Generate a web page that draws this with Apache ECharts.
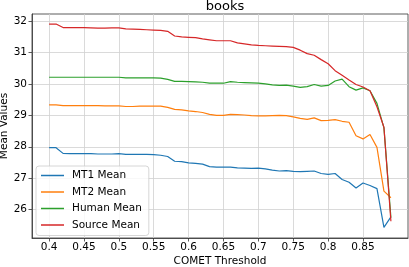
<!DOCTYPE html>
<html>
<head>
<meta charset="utf-8">
<script src="https://cdn.jsdelivr.net/npm/echarts@6/dist/echarts.min.js"></script>
<style>
html,body{margin:0;padding:0;background:#fff;}
#chart{width:409px;height:267px;}
</style>
</head>
<body>
<div id="chart"></div>
<script>
const thresholds = [0.40,0.41,0.42,0.43,0.44,0.45,0.46,0.47,0.48,0.49,
  0.50,0.51,0.52,0.53,0.54,0.55,0.56,0.57,0.58,0.59,
  0.60,0.61,0.62,0.63,0.64,0.65,0.66,0.67,0.68,0.69,
  0.70,0.71,0.72,0.73,0.74,0.75,0.76,0.77,0.78,0.79,
  0.80,0.81,0.82,0.83,0.84,0.85,0.86,0.87,0.88,0.89];
const mt1Mean = [27.97,27.97,27.79,27.78,27.78,27.78,27.78,27.77,27.77,27.77,
  27.78,27.76,27.76,27.76,27.76,27.75,27.73,27.69,27.54,27.53,
  27.49,27.47,27.45,27.37,27.35,27.35,27.35,27.33,27.32,27.31,
  27.32,27.30,27.26,27.23,27.24,27.22,27.21,27.22,27.23,27.15,
  27.12,27.15,26.96,26.87,26.69,26.85,26.77,26.67,25.44,25.77];
const mt2Mean = [29.33,29.33,29.31,29.31,29.31,29.31,29.31,29.31,29.30,29.30,
  29.30,29.28,29.28,29.29,29.29,29.29,29.29,29.25,29.19,29.17,
  29.14,29.12,29.09,29.03,29.00,29.00,29.03,29.02,29.01,28.99,
  28.98,28.98,28.99,29.00,28.99,28.95,28.90,28.87,28.92,28.83,
  28.84,28.86,28.81,28.78,28.35,28.25,28.39,27.98,26.59,26.38];
const humanMean = [30.21,30.21,30.21,30.21,30.21,30.21,30.21,30.21,30.21,30.21,
  30.21,30.19,30.19,30.19,30.19,30.19,30.18,30.14,30.08,30.08,
  30.07,30.06,30.05,30.02,30.02,30.02,30.07,30.05,30.04,30.03,
  30.02,30.00,29.97,29.95,29.96,29.93,29.89,29.91,29.98,29.93,
  29.95,30.09,30.15,29.91,29.80,29.87,29.78,29.38,28.60,25.75];
const sourceMean = [31.90,31.90,31.79,31.79,31.79,31.79,31.78,31.77,31.77,31.78,
  31.78,31.75,31.74,31.73,31.72,31.71,31.70,31.67,31.52,31.49,
  31.48,31.47,31.43,31.40,31.37,31.37,31.37,31.30,31.27,31.24,
  31.22,31.21,31.20,31.19,31.18,31.16,31.07,30.96,30.91,30.77,
  30.64,30.42,30.27,30.12,29.98,29.90,29.78,29.27,28.62,25.63];
const xTicks = [0.4,0.45,0.5,0.55,0.6,0.65,0.7,0.75,0.8,0.85];
const yTicks = [26,27,28,29,30,31,32];
const seriesNames = ['MT1 Mean','MT2 Mean','Human Mean','Source Mean'];
const colors = ['#1f77b4','#ff7f0e','#2ca02c','#d62728'];

const FONT = 'DejaVu Sans';
const pairs = arr => thresholds.map((t,i)=>[t, arr[i]]);
const allSeries = [mt1Mean, mt2Mean, humanMean, sourceMean];

const chart = echarts.init(document.getElementById('chart'), null, {renderer:'canvas'});
chart.setOption({
  animation:false,
  backgroundColor:'#fff',
  color: colors,
  title:{
    text:'books', left:220, top:-5, textAlign:'center',
    textStyle:{fontFamily:FONT, fontSize:13, fontWeight:'normal', color:'#000'}
  },
  grid:{left:32, right:1, top:14, bottom:29, containLabel:false, outerBoundsMode:'none',
    show:true, borderColor:'#333', borderWidth:0.8, backgroundColor:'transparent'},
  xAxis:{
    type:'value', min:0.3755, max:0.9145,
    name:'COMET Threshold', nameLocation:'middle', nameGap:17.5, nameMoveOverlap:false,
    nameTextStyle:{fontFamily:FONT, fontSize:10.5, color:'#000'},
    axisLine:{show:true, onZero:false, lineStyle:{color:'#333', width:0.8}},
    axisTick:{show:true, length:3.5, customValues:xTicks, lineStyle:{color:'#333', width:0.8}},
    axisLabel:{customValues:xTicks, margin:4, fontFamily:FONT, fontSize:10.5, color:'#000',
      formatter: v => String(+v.toFixed(2))},
    splitLine:{show:true, lineStyle:{color:'#d0d0d0', width:0.8}}
  },
  yAxis:{
    type:'value', min:25.10, max:32.22,
    name:'Mean Values', nameLocation:'middle', nameGap:22, nameMoveOverlap:false,
    nameTextStyle:{fontFamily:FONT, fontSize:10.5, color:'#000'},
    axisLine:{show:true, onZero:false, lineStyle:{color:'#333', width:0.8}},
    axisTick:{show:true, length:3.5, customValues:yTicks, lineStyle:{color:'#333', width:0.8}},
    axisLabel:{customValues:yTicks, margin:5, fontFamily:FONT, fontSize:10.5, color:'#000'},
    splitLine:{show:true, lineStyle:{color:'#d0d0d0', width:0.8}}
  },
  legend:{
    orient:'vertical', left:36, top:166,
    data: seriesNames,
    icon:'rect', itemWidth:23, itemHeight:1.5, itemGap:5.5,
    padding:[4,7,5,5],
    backgroundColor:'rgba(255,255,255,0.8)', borderColor:'#cccccc', borderWidth:0.8, borderRadius:3,
    textStyle:{fontFamily:FONT, fontSize:10.5, color:'#000', padding:[0,0,0,3]}
  },
  series: allSeries.map((arr,i)=>({
    name: seriesNames[i], type:'line', data: pairs(arr),
    symbol:'none', showSymbol:false, lineStyle:{width:1.2, color:colors[i]},
    itemStyle:{color:colors[i]}
  }))
});
</script>
</body>
</html>
